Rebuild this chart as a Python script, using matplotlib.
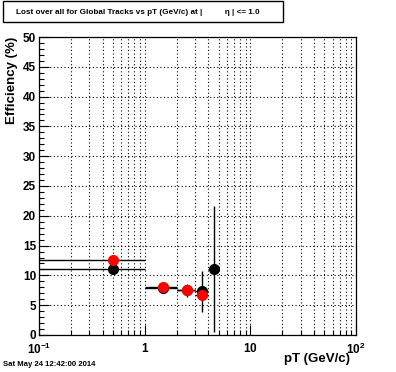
import matplotlib
matplotlib.use("Agg")
import matplotlib.pyplot as plt
import numpy as np
from matplotlib.ticker import LogLocator, MultipleLocator, FixedLocator, FixedFormatter

plt.rcParams['font.family'] = ['Liberation Sans', 'DejaVu Sans']
plt.rcParams['mathtext.fontset'] = 'custom'
plt.rcParams['mathtext.rm'] = 'Liberation Sans'
plt.rcParams['mathtext.bf'] = 'Liberation Sans:bold'

# pT bins (GeV/c)
bin_lo = np.array([0.0, 1.0, 2.0, 3.0, 4.0])
bin_hi = np.array([1.0, 2.0, 3.0, 4.0, 5.0])
pt_center = np.array([0.5, 1.5, 2.5, 3.5, 4.5])

# black series
eff_black = np.array([11.0, 7.9, 7.5, 7.3, 11.1])
err_black = np.array([0.3, 0.3, 1.1, 3.4, 10.6])

# red series (no entry in last bin)
eff_red = np.array([12.5, 8.0, 7.6, 6.7])
err_red = np.array([0.3, 0.3, 0.3, 0.3])

x_ticks = [0.1, 1, 10, 100]
x_ticklabels = [r'$\mathbf{10^{-1}}$', r'$\mathbf{1}$', r'$\mathbf{10}$', r'$\mathbf{10^{2}}$']

fig = plt.figure(figsize=(3.96, 3.72), dpi=100)
ax = fig.add_axes([0.0985, 0.0995, 0.801, 0.801])

ax.errorbar(pt_center, eff_black, xerr=[pt_center - np.maximum(bin_lo, 1e-3), bin_hi - pt_center],
            yerr=err_black, fmt='o', color='black', ms=7, lw=1, capsize=0, zorder=3)
n = len(eff_red)
ax.errorbar(pt_center[:n], eff_red, xerr=[pt_center[:n] - np.maximum(bin_lo[:n], 1e-3), bin_hi[:n] - pt_center[:n]],
            yerr=err_red, fmt='o', color='red', ecolor='black', ms=7, lw=1, capsize=0, zorder=4)

ax.set_xscale('log')
ax.set_xlim(0.1, 100)
ax.set_ylim(0, 50)

ax.xaxis.set_major_locator(FixedLocator(x_ticks))
ax.xaxis.set_major_formatter(FixedFormatter(x_ticklabels))
ax.xaxis.set_minor_locator(LogLocator(base=10, subs=np.arange(2, 10)))
ax.xaxis.set_minor_formatter(FixedFormatter([]))
ax.yaxis.set_major_locator(MultipleLocator(5))
ax.yaxis.set_minor_locator(MultipleLocator(1))

ax.tick_params(which='both', direction='in', top=False, right=False, width=0.8)
ax.tick_params(which='major', length=7, labelsize=8.5)
ax.tick_params(axis='x', which='major', pad=5)
ax.tick_params(axis='y', which='major', pad=2)
ax.tick_params(which='minor', length=3.5)
for lab in ax.get_yticklabels():
    lab.set_fontweight('bold')

grid_style = dict(linestyle=(0, (1, 2.2)), color='black', lw=0.8)
ax.grid(True, which='major', axis='y', **grid_style)
ax.grid(True, which='both', axis='x', **grid_style)
for sp in ax.spines.values():
    sp.set_linewidth(0.9)

ax.set_ylabel('Efficiency (%)', fontsize=9.5, fontweight='bold')
ax.yaxis.set_label_coords(-0.065, 1.0)
ax.yaxis.label.set_horizontalalignment('right')
ax.set_xlabel('pT (GeV/c)', fontsize=9.5, fontweight='bold')
ax.xaxis.set_label_coords(0.981, -0.06)
ax.xaxis.label.set_horizontalalignment('right')
ax.xaxis.label.set_verticalalignment('top')

fig.text(16 / 396, 1 - 12 / 372, 'Lost over all for Global Tracks vs pT (GeV/c) at |          \u03b7 | <= 1.0',
         fontsize=5.9, fontweight='bold', va='center', ha='left')
fig.patches.append(plt.Rectangle((3 / 396, 1 - 22 / 372), 280 / 396, 21 / 372,
                                 transform=fig.transFigure, fill=False, lw=1, color='black'))
fig.text(3 / 396, 1 - 364 / 372, 'Sat May 24 12:42:00 2014', fontsize=5.6, fontweight='bold', va='center')

fig.savefig('out.png', dpi=100)
